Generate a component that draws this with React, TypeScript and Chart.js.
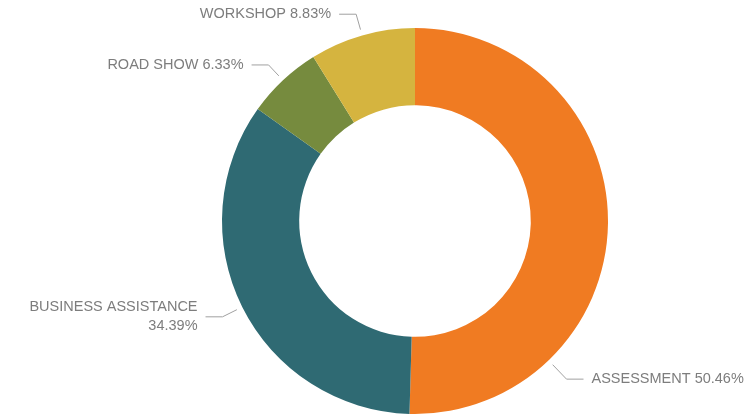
import React, { useEffect, useRef } from "react";
import { Chart, registerables } from "chart.js";

Chart.register(...registerables);

const categories = ["ASSESSMENT", "BUSINESS ASSISTANCE", "ROAD SHOW", "WORKSHOP"];
const values = [50.46, 34.39, 6.33, 8.83];
const colors = ["#F07B22", "#2F6A73", "#768B3E", "#D5B43F"];
// style: where along each slice the leader line is anchored, its length, and whether the label wraps
const anchorFraction = [0.75, 0.5, 0.5, 0.5];
const elbowOffset = [26, 22, 21, 22];
const wrapLabel = [false, true, false, false];

const labelPlugin = {
  id: "leaderLabels",
  afterDraw(chart: any) {
    const ctx = chart.ctx as CanvasRenderingContext2D;
    const meta = chart.getDatasetMeta(0);
    ctx.save();
    ctx.font = "14.5px 'Liberation Sans', Arial, sans-serif";
    ctx.fillStyle = "#7d7d7d";
    ctx.strokeStyle = "#a0a0a0";
    ctx.lineWidth = 1;
    meta.data.forEach((arc: any, i: number) => {
      const { x, y, startAngle, endAngle, outerRadius } = arc.getProps(
        ["x", "y", "startAngle", "endAngle", "outerRadius"],
        true
      );
      const a = startAngle + anchorFraction[i] * (endAngle - startAngle);
      const c = Math.cos(a);
      const s = Math.sin(a);
      const p0 = { x: x + c * (outerRadius + 6), y: y + s * (outerRadius + 6) };
      const e = outerRadius + elbowOffset[i];
      const p1 = { x: x + c * e, y: y + s * e };
      const dir = c >= 0 ? 1 : -1;
      const p2 = { x: p1.x + dir * 17, y: p1.y };
      ctx.beginPath();
      ctx.moveTo(p0.x, p0.y);
      ctx.lineTo(p1.x, p1.y);
      ctx.lineTo(p2.x, p2.y);
      ctx.stroke();
      const pct = values[i].toFixed(2) + "%";
      const lines = wrapLabel[i] ? [categories[i], pct] : [categories[i] + " " + pct];
      const lh = 19;
      ctx.textAlign = dir > 0 ? "left" : "right";
      ctx.textBaseline = "middle";
      const tx = p2.x + dir * 8;
      const y0 = p1.y - ((lines.length - 1) * lh) / 2;
      lines.forEach((ln, k) => ctx.fillText(ln, tx, y0 + k * lh));
    });
    ctx.restore();
  },
};

export default function App() {
  const ref = useRef<HTMLCanvasElement>(null);
  useEffect(() => {
    if (!ref.current) return;
    const chart = new Chart(ref.current, {
      type: "doughnut",
      data: {
        labels: categories,
        datasets: [
          {
            data: values,
            backgroundColor: colors,
            borderWidth: 0,
          },
        ],
      },
      options: {
        animation: false,
        responsive: false,
        cutout: "60%",
        layout: { padding: { left: 222, right: 148, top: 28, bottom: 5 } },
        plugins: {
          legend: { display: false },
          tooltip: { enabled: false },
        },
      },
      plugins: [labelPlugin],
    });
    return () => chart.destroy();
  }, []);
  return (
    <div style={{ position: "fixed", left: 0, top: 0, width: 756, height: 419, background: "#fff" }}>
      <canvas ref={ref} width={756} height={419} style={{ width: 756, height: 419 }} />
    </div>
  );
}
